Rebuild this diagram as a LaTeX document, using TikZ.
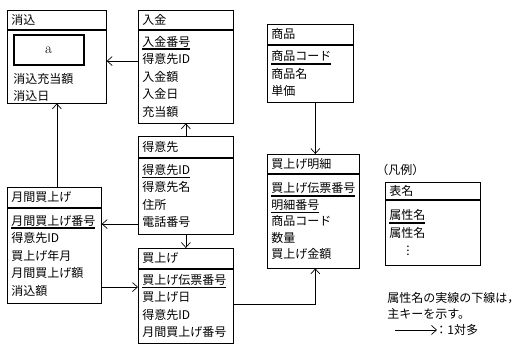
\documentclass[tikz,border=0pt]{standalone}
\usepackage{fontspec}
\newfontfamily\jp{Noto Sans CJK JP}
\usetikzlibrary{arrows.meta, positioning}
\newcommand\pk[1]{\leavevmode\vtop{\hbox{#1}\kern1.4pt\hrule height 1.6pt}}

\begin{document}
\begin{tikzpicture}[x=1pt, y=-1pt, line width=0.7pt,
                    font=\jp\fontsize{12}{17.5}\selectfont,
                    tname/.style={draw, text width=#1, align=left, inner xsep=4pt, inner ysep=2pt,
                                  minimum height=20pt, anchor=north west},
                    tbody/.style={draw, text width=#1, align=left, inner xsep=4pt, inner ysep=2pt},
                    akey/.style={draw, line width=2pt, minimum width=70pt, minimum height=30pt,
                                 font=\rmfamily\fontsize{15}{16}\selectfont},
                    arr/.style={-{Straight Barb[length=5pt,width=9pt]}}]
            \useasboundingbox (0,0) rectangle (523,347);

            % Tables
            \node[tname=91pt, minimum height=19pt] (keshiH) at (7,10) {消込};
            \node[tbody=91pt, minimum height=73pt, below=0pt of keshiH] (keshiB) {};
            \node[akey, anchor=north west] (a) at ([shift={(5.5pt,-4.5pt)}]keshiB.north west) {a};
            \node[anchor=north west, align=left, inner sep=0pt] (keshiR)
                at ([shift={(0.5pt,-7pt)}]a.south west) {消込充当額\\[-0.5pt]消込日};

            \node[tname=87pt, minimum height=19pt] (nyukinH) at (138,10) {入金};
            \node[tbody=87pt, minimum height=93pt, below=0pt of nyukinH] (nyukinB)
                {\pk{入金番号}\\得意先ID\\入金額\\入金日\\充当額};

            \node[tname=87pt, minimum height=21pt] (tokuiH) at (138,136) {得意先};
            \node[tbody=87pt, minimum height=76pt, below=0pt of tokuiH] (tokuiB)
                {\pk{得意先ID}\\得意先名\\住所\\電話番号};

            \node[tname=86pt] (getsuH) at (7,187) {月間買上げ};
            \node[tbody=86pt, minimum height=95pt, below=0pt of getsuH] (getsuB)
                {\pk{月間買上げ番号}\\得意先ID\\買上げ年月\\月間買上げ額\\消込額};

            \node[tname=87pt] (uriH) at (138,248) {買上げ};
            \node[tbody=87pt, minimum height=74pt, below=0pt of uriH] (uriB)
                {\pk{買上げ伝票番号}\\買上げ日\\得意先ID\\月間買上げ番号};

            \node[tname=78pt] (shohinH) at (267,24) {商品};
            \node[tbody=78pt, minimum height=57pt, below=0pt of shohinH] (shohinB)
                {\pk{商品コード}\\商品名\\単価};

            \node[tname=84pt, minimum height=19pt] (meisaiH) at (267,154) {買上げ明細};
            \node[tbody=84pt, minimum height=94pt, below=0pt of meisaiH] (meisaiB)
                {\pk{買上げ伝票番号}\\[-1pt]\pk{明細番号}\\[-1pt]商品コード\\[-1pt]数量\\[-1pt]買上げ金額};

            % Legend
            \node[tname=87pt, minimum height=17pt] (hyoH) at (385,182) {表名};
            \node[tbody=87pt, minimum height=65pt, below=0pt of hyoH] (hyoB)
                {\pk{属性名}\\[0.5pt]属性名\\\hspace*{17pt}$\vdots$};
            \node[anchor=south west, inner sep=0pt] (hanrei)
                at ([shift={(-9pt,6pt)}]hyoH.north west) {（凡例）};
            \node[anchor=north west, align=left, inner sep=0pt] (note)
                at (387,292) {属性名の実線の下線は，\\[-1.5pt]主キーを示す。};
            \node[anchor=west, inner sep=0pt] (key) at (435,330) {：1対多};

            % Arrows
            \draw[arr] ([yshift=15.5pt]nyukinB.west) coordinate (p1) -- (keshiB.east |- p1);
            \draw[arr] (keshiB.south |- getsuH.north) -- (keshiB.south);
            \draw[arr] (tokuiH.north) -- (nyukinB.south);
            \draw[arr] ([yshift=-28pt]tokuiB.west) coordinate (p2) -- (getsuB.east |- p2);
            \draw[arr] (tokuiB.south) -- (uriH.north);
            \draw[arr] ([yshift=-31.5pt]getsuB.east) coordinate (p3) -- (uriB.west |- p3);
            \draw[arr] ([yshift=2pt]uriB.east) -| ([xshift=2pt]meisaiB.south);
            \draw[arr] ([xshift=2pt]meisaiH.north |- shohinB.south) -- ([xshift=2pt]meisaiH.north);
            \draw[arr] ([xshift=-40pt]key.west) -- ([xshift=2pt]key.west);

        \end{tikzpicture}
\end{document}
